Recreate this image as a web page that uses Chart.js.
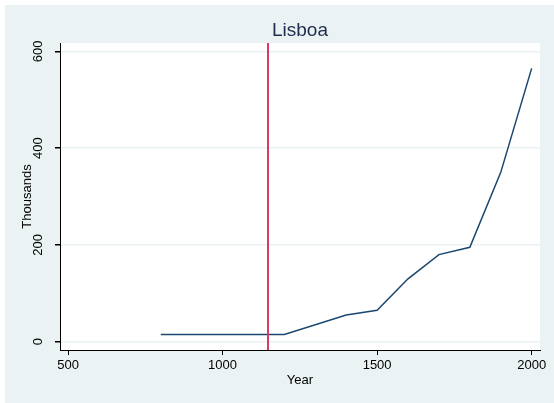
<!DOCTYPE html>
<html>
<head>
<meta charset="utf-8">
<script src="https://cdn.jsdelivr.net/npm/chart.js@4"></script>
<style>
  body { margin: 0; background: #ffffff; }
  #wrap { width: 554px; height: 403px; }
</style>
</head>
<body>
<div id="wrap"><canvas id="lisboaChart" width="554" height="403"></canvas></div>
<script>
'use strict';

// data
var years = [800, 1200, 1400, 1500, 1600, 1700, 1800, 1900, 2000];
var thousands = [15, 15, 55, 65, 130, 180, 195, 350, 565];
var markYear = [1147];
var xTicks = [500, 1000, 1500, 2000];
var yTicks = [0, 200, 400, 600];

var navy = '#1a476f';
var bgColor = '#eaf2f3';

// build the points for the line
var points = [];
for (var i = 0; i < years.length; i++) {
    points.push({ x: years[i], y: thousands[i] });
}

// paints the grey-blue page behind the plot and the white plot region
var backdrop = {
    id: 'backdrop',
    beforeDraw: function(chart) {
        var ctx = chart.ctx;
        var area = chart.chartArea;
        ctx.save();
        ctx.fillStyle = bgColor;
        ctx.fillRect(5, 5, chart.width - 5, chart.height - 5);
        ctx.fillStyle = '#ffffff';
        ctx.fillRect(area.left, area.top, area.right - area.left, area.bottom - area.top);
        ctx.restore();
    }
};

// the red vertical marker and the title over the plot
var extras = {
    id: 'extras',
    afterDatasetsDraw: function(chart) {
        var ctx = chart.ctx;
        var area = chart.chartArea;
        ctx.save();
        for (var j = 0; j < markYear.length; j++) {
            var px = chart.scales.x.getPixelForValue(markYear[j]);
            ctx.strokeStyle = '#d93a63';
            ctx.lineWidth = 2;
            ctx.beginPath();
            ctx.moveTo(px, area.top);
            ctx.lineTo(px, area.bottom);
            ctx.stroke();
        }
        ctx.fillStyle = '#1e2d4f';
        ctx.font = '19px "Liberation Sans", Arial, sans-serif';
        ctx.textAlign = 'center';
        ctx.textBaseline = 'alphabetic';
        ctx.fillText('Lisboa', (area.left + area.right) / 2, 36);
        ctx.restore();
    }
};

// plain numbers, no thousands separator
function plainLabel(value) {
    return String(value);
}

Chart.defaults.font.family = '"Liberation Sans", Arial, sans-serif';
Chart.defaults.color = '#000000';

var ctx = document.getElementById('lisboaChart').getContext('2d');
var chart = new Chart(ctx, {
    type: 'line',
    data: {
        datasets: [
            {
                label: 'Lisboa',
                data: points,
                borderColor: navy,
                borderWidth: 1.5,
                pointRadius: 0,
                tension: 0,
                fill: false
            }
        ]
    },
    options: {
        responsive: false,
        animation: false,
        layout: { padding: { left: 0, right: 14, top: 43, bottom: 0 } },
        plugins: {
            legend: { display: false },
            tooltip: { enabled: false }
        },
        scales: {
            x: {
                type: 'linear',
                min: 474,
                max: 2027,
                afterBuildTicks: function(axis) {
                    axis.ticks = xTicks.map(function(v) { return { value: v }; });
                },
                afterFit: function(axis) { axis.height = 53; },
                grid: { drawOnChartArea: false, drawTicks: true, tickLength: 5, tickColor: '#000000' },
                border: { display: true, color: '#000000', width: 1 },
                ticks: { font: { size: 13 }, padding: 3, maxRotation: 0, color: '#000000', callback: plainLabel },
                title: { display: true, text: 'Year', font: { size: 13 }, padding: { top: 0, bottom: 15 }, color: '#000000' }
            },
            y: {
                type: 'linear',
                min: -17.2,
                max: 617.4,
                afterBuildTicks: function(axis) {
                    axis.ticks = yTicks.map(function(v) { return { value: v }; });
                },
                afterFit: function(axis) { axis.width = 60; },
                grid: { color: bgColor, lineWidth: 1.5, drawTicks: true, tickLength: 5, tickColor: '#000000' },
                border: { display: true, color: '#000000', width: 1 },
                ticks: { font: { size: 13 }, padding: 6, minRotation: 90, maxRotation: 90, crossAlign: 'center', color: '#000000', callback: plainLabel },
                title: { display: true, text: 'Thousands', font: { size: 13 }, padding: { top: 20, bottom: 0 }, color: '#000000' }
            }
        }
    },
    plugins: [backdrop, extras]
});
</script>
</body>
</html>
